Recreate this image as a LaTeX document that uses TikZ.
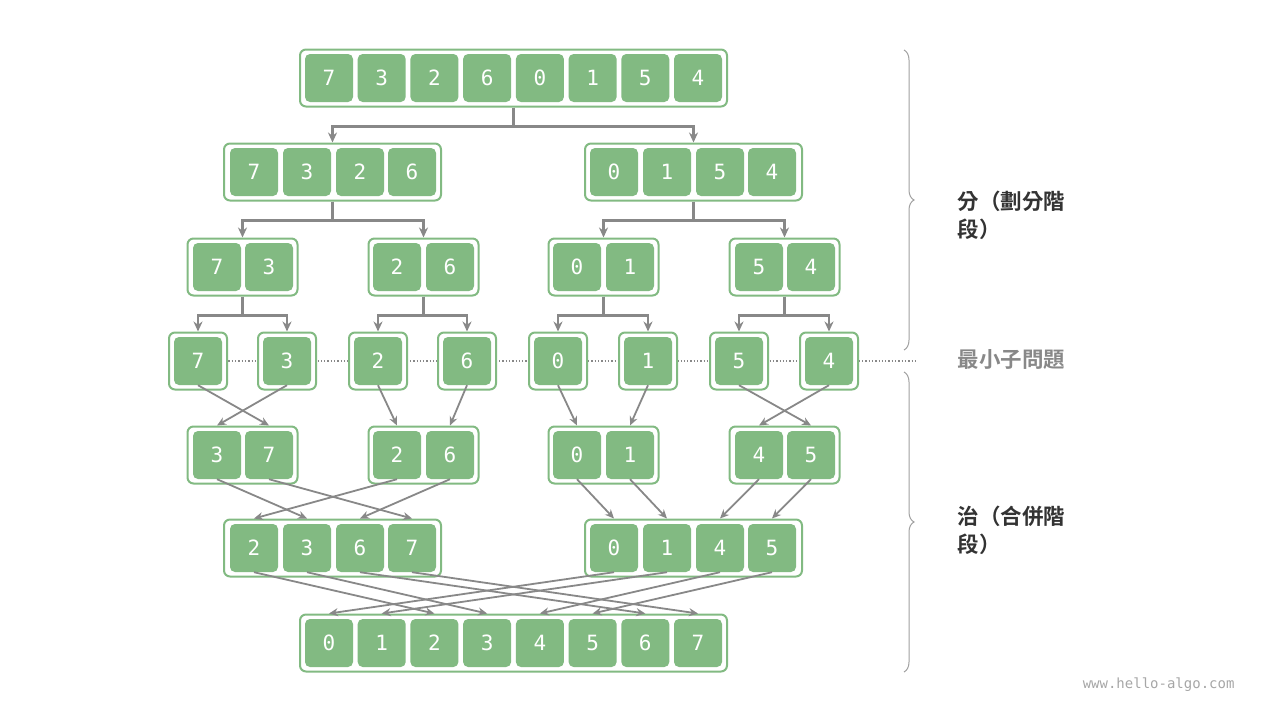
\documentclass[tikz,border=0pt]{standalone}
\usepackage{fontspec}
\setmonofont{DejaVu Sans Mono}
\newfontfamily\cjk{Noto Sans CJK TC}[BoldFont={Noto Sans CJK TC Bold}]
\usetikzlibrary{arrows.meta,decorations.pathreplacing}
\definecolor{cellg}{HTML}{82BA82}
\definecolor{cgray}{HTML}{888888}
\tikzset{
  box/.style={draw=cellg,line width=2pt,fill=white,rounded corners=6pt,minimum height=57,inner sep=0},
  cell/.style={fill=cellg,rounded corners=5pt,minimum width=48,minimum height=48,inner sep=0,text=white,font=\ttfamily\fontsize{21}{21}\selectfont},
  conn/.style={draw=cgray,line width=2.6pt,-{Stealth[length=10pt,width=9pt]}},
  mconn/.style={draw=cgray,line width=1.8pt,-{Stealth[length=9pt,width=8pt]}},
}
\newcommand\mkrow[4]{% row id, box name, y, list x/v
  \foreach \xx/\vv in {#4}{\node[cell] (c#1\vv) at (\xx,#3) {\vv};}}
\begin{document}
\begin{tikzpicture}[x=1pt,y=-1pt]
\useasboundingbox (0,0) rectangle (1280,720);
\draw[cgray,line width=1.3pt,dotted] (169,361) -- (915,361);
% row 0
\node[box,minimum width=427] (b0) at (513.5,78) {};
\mkrow{0}{b0}{78}{329/7,381.7/3,434.4/2,487.1/6,539.9/0,592.6/1,645.3/5,698/4}
% row 1
\node[box,minimum width=217] (b1a) at (332.5,172) {};
\node[box,minimum width=217] (b1b) at (693.5,172) {};
\mkrow{1}{}{172}{254/7,307/3,360/2,412/6,614/0,667/1,720/5,772/4}
% row 2
\node[box,minimum width=110] (b2a) at (242.5,267) {};
\node[box,minimum width=110] (b2b) at (423.5,267) {};
\node[box,minimum width=110] (b2c) at (603.5,267) {};
\node[box,minimum width=110] (b2d) at (784.5,267) {};
\mkrow{2}{}{267}{217/7,269/3,397/2,450/6,577/0,630/1,759/5,811/4}
% row 3
\foreach \xx/\vv in {198/7,287/3,378/2,467/6,558/0,648/1,739/5,829/4}{
  \node[box,minimum width=58] (b3\vv) at (\xx,361) {};
  \node[cell] (c3\vv) at (\xx,361) {\vv};}
% row 4
\node[box,minimum width=110] (b4a) at (242.5,455) {};
\node[box,minimum width=110] (b4b) at (423.5,455) {};
\node[box,minimum width=110] (b4c) at (603.5,455) {};
\node[box,minimum width=110] (b4d) at (784.5,455) {};
\mkrow{4}{}{455}{217/3,269/7,397/2,450/6,577/0,630/1,759/4,811/5}
% row 5
\node[box,minimum width=217] (b5a) at (332.5,548) {};
\node[box,minimum width=217] (b5b) at (693.5,548) {};
\mkrow{5}{}{548}{254/2,307/3,360/6,412/7,614/0,667/1,720/4,772/5}
% row 6
\node[box,minimum width=427] (b6) at (513.5,643) {};
\mkrow{6}{b6}{643}{329/0,381.7/1,434.4/2,487.1/3,539.9/4,592.6/5,645.3/6,698/7}
% divide connectors
\draw[conn] (b0.south) -- ++(0,19) -| (b1a.north);
\draw[conn] (b0.south) -- ++(0,19) -| (b1b.north);
\foreach \p/\l/\r in {b1a/b2a/b2b,b1b/b2c/b2d}{
  \draw[conn] (\p.south) -- ++(0,19) -| (\l.north);
  \draw[conn] (\p.south) -- ++(0,19) -| (\r.north);}
\foreach \p/\l/\r in {b2a/7/3,b2b/2/6,b2c/0/1,b2d/5/4}{
  \draw[conn] (\p.south) -- ++(0,19) -| (b3\l.north);
  \draw[conn] (\p.south) -- ++(0,19) -| (b3\r.north);}
% merge connectors
\foreach \v/\b in {7/b4a,3/b4a,2/b4b,6/b4b,0/b4c,1/b4c,5/b4d,4/b4d}
  \draw[mconn] (c3\v.south) -- (c4\v.north |- \b.north);
\foreach \v/\b in {3/b5a,7/b5a,2/b5a,6/b5a,0/b5b,1/b5b,4/b5b,5/b5b}
  \draw[mconn] (c4\v.south) -- (c5\v.north |- \b.north);
\foreach \v in {0,...,7}
  \draw[mconn] (c5\v.south) -- (c6\v.north |- b6.north);
% braces
\draw[cgray!80,line width=1pt,decorate,decoration={brace,amplitude=10pt}] (904,50) -- (904,350);
\draw[cgray!80,line width=1pt,decorate,decoration={brace,amplitude=10pt}] (904,372) -- (904,672);
\node[anchor=north west,align=left,text=black!80,font=\cjk\bfseries\fontsize{21.5}{28}\selectfont] (t1) at (954,187) {分（劃分階\\段）};
\node[anchor=west,text=cgray,font=\cjk\bfseries\fontsize{21.5}{28}\selectfont] (t2) at (954,360) {最小子問題};
\node[anchor=north west,align=left,text=black!80,font=\cjk\bfseries\fontsize{21.5}{28}\selectfont] (t3) at (954,502) {治（合併階\\段）};
\node[anchor=east,text=black!35,font=\ttfamily\fontsize{14}{14}\selectfont] (wm) at (1238,685) {www.hello-algo.com};
\end{tikzpicture}
\end{document}
